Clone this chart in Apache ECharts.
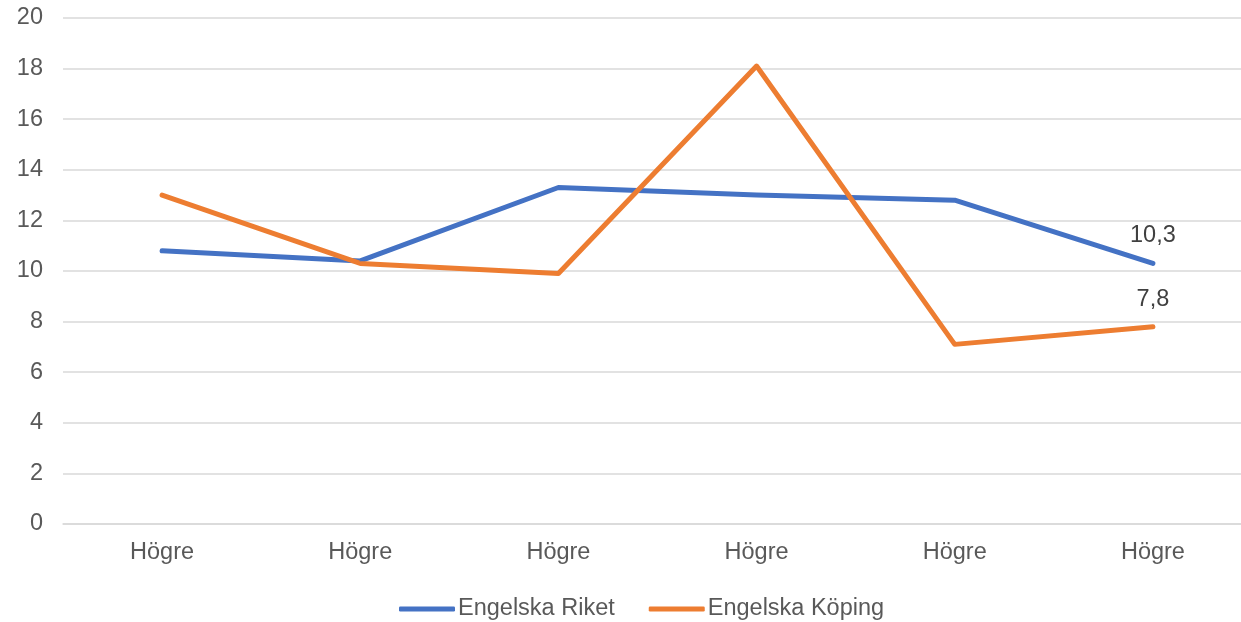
<!DOCTYPE html>
<html>
<head>
<meta charset="utf-8">
<script src="https://cdn.jsdelivr.net/npm/echarts@6/dist/echarts.min.js"></script>
<style>html,body{margin:0;padding:0;background:#fff;overflow:hidden}#c{width:1270px;height:622px}</style>
</head>
<body>
<div id="c"></div>
<script>
const categories = ['Högre', 'Högre', 'Högre', 'Högre', 'Högre', 'Högre'];
const riket = [10.8, 10.4, 13.3, 13.0, 12.8, 10.3];
const koping = [13.0, 10.3, 9.9, 18.1, 7.1, 7.8];
const seriesNames = ['Engelska Riket', 'Engelska Köping'];
const yTicks = { min: 0, max: 20, interval: 2 };

const FONT = '"Liberation Sans", Arial, sans-serif';
const TXT = '#595959';
const FS = 23.5;

function withEndLabel(arr) {
  return arr.map((v, i) => i === arr.length - 1
    ? { value: v, label: { show: true } }
    : v);
}

const chart = echarts.init(document.getElementById('c'), null, { renderer: 'canvas' });
chart.setOption({
  animation: false,
  textStyle: { fontFamily: FONT },
  grid: { left: 63, top: 18, width: 1189, height: 506, containLabel: false },
  legend: {
    left: 394, top: 592,
    itemWidth: 56, itemHeight: 5, itemGap: 34,
    icon: 'roundRect',
    textStyle: { fontSize: FS, color: TXT, fontFamily: FONT, padding: [0, 0, 0, -2] },
    data: seriesNames
  },
  xAxis: {
    type: 'category',
    data: categories,
    boundaryGap: true,
    axisLine: { lineStyle: { color: '#D9D9D9', width: 1.5 } },
    axisTick: { show: false },
    axisLabel: { fontSize: FS, color: TXT, margin: 17, fontFamily: FONT, interval: 0 }
  },
  yAxis: {
    type: 'value',
    min: yTicks.min, max: yTicks.max, interval: yTicks.interval,
    axisLine: { show: false },
    axisTick: { show: false },
    axisLabel: { fontSize: FS, color: TXT, margin: 20, fontFamily: FONT },
    splitLine: { lineStyle: { color: '#D9D9D9', width: 1.5 } }
  },
  series: [
    {
      name: seriesNames[0], type: 'line', data: withEndLabel(riket),
      symbol: 'circle', symbolSize: 1,
      lineStyle: { width: 5, color: '#4472C4', cap: 'round', join: 'round' },
      itemStyle: { color: '#4472C4' },
      label: { show: false, position: 'top', distance: 15, fontSize: FS, color: '#404040',
        fontFamily: FONT, formatter: p => String(p.value).replace('.', ',') }
    },
    {
      name: seriesNames[1], type: 'line', data: withEndLabel(koping),
      symbol: 'circle', symbolSize: 1,
      lineStyle: { width: 5, color: '#ED7D31', cap: 'round', join: 'round' },
      itemStyle: { color: '#ED7D31' },
      label: { show: false, position: 'top', distance: 15, fontSize: FS, color: '#404040',
        fontFamily: FONT, formatter: p => String(p.value).replace('.', ',') }
    }
  ]
});
</script>
</body>
</html>
